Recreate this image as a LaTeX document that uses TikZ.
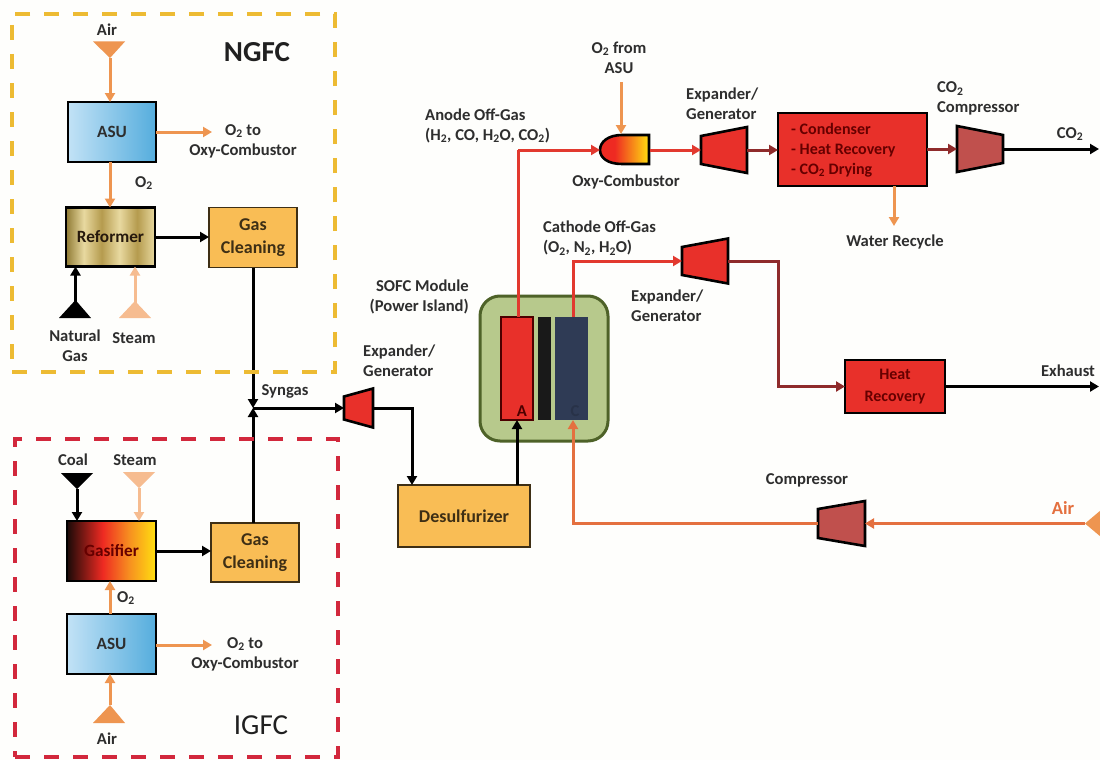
\documentclass[tikz,border=0pt]{standalone}
\usepackage{fontspec}
\setmainfont{Carlito}
\usetikzlibrary{arrows.meta}
\definecolor{bgc}{HTML}{FEFEFC}
\definecolor{txt}{HTML}{2E2E2E}
\definecolor{gold}{HTML}{EDBB33}
\definecolor{crim}{HTML}{D2283C}
\definecolor{orng}{HTML}{EE9550}
\definecolor{orrd}{HTML}{E4703F}
\definecolor{peach}{HTML}{F6BC90}
\definecolor{redl}{HTML}{E2392F}
\definecolor{dred}{HTML}{8F2B2B}
\definecolor{boxred}{HTML}{E8302A}
\definecolor{mute}{HTML}{C0504D}
\definecolor{sand}{HTML}{F9BD55}
\definecolor{olive}{HTML}{B7C98C}
\definecolor{dolive}{HTML}{4E6228}
\definecolor{navy}{HTML}{2F3B55}
\definecolor{aa}{HTML}{C2E2F6}\definecolor{ab}{HTML}{55ADDD}
\pgfdeclarehorizontalshading{asushade}{100bp}{color(0bp)=(aa);color(25bp)=(aa);color(75bp)=(ab);color(100bp)=(ab)}
\definecolor{ra}{HTML}{8F7A33}\definecolor{rb}{HTML}{E8D9A0}\definecolor{rc}{HTML}{B59B4E}
\pgfdeclarehorizontalshading{refshade}{100bp}{color(0bp)=(ra);color(25bp)=(ra);color(35bp)=(rb);color(45bp)=(rc);color(55bp)=(rb);color(65bp)=(rc);color(75bp)=(rb);color(100bp)=(rb)}
\definecolor{ga}{HTML}{1A0A08}\definecolor{gb}{HTML}{EE2A22}\definecolor{gc}{HTML}{F79020}\definecolor{gd}{HTML}{FFE010}
\pgfdeclarehorizontalshading{gasshade}{100bp}{color(0bp)=(ga);color(25bp)=(ga);color(45bp)=(gb);color(60bp)=(gc);color(75bp)=(gd);color(100bp)=(gd)}
\pgfdeclarehorizontalshading{oxyshade}{100bp}{color(0bp)=(gb);color(25bp)=(gb);color(40bp)=(gb);color(75bp)=(gd);color(100bp)=(gd)}
\tikzset{
  lbl/.style={font=\bfseries\fontsize{16.6}{20}\selectfont,text=txt,inner sep=0pt,align=center},
  lbll/.style={lbl,align=left,anchor=west},
  boxlbl/.style={lbl,font=\bfseries\fontsize{17.2}{20}\selectfont},
  procbox/.style={draw=black,line width=2.6pt,inner sep=0pt,outer sep=0pt,align=center,font=\bfseries\fontsize{16}{22}\selectfont},
  sandbox/.style={procbox,fill=sand,line width=1.5pt,draw=black!75!sand,text=black!75!sand,font=\bfseries\fontsize{18}{23}\selectfont},
  redbox/.style={procbox,fill=boxred,text=black!60!red},
  sz/.style n args={2}{minimum width=#1pt,minimum height=#2pt},
  flow/.style={line width=3pt,-{Triangle[length=9pt,width=10pt]}},
  blk/.style={flow,draw=black},
  org/.style={flow,draw=orng},
  oxr/.style={flow,draw=orrd},
  pch/.style={flow,draw=peach},
  rdl/.style={flow,draw=redl},
  drd/.style={flow,draw=dred},
  dashbox/.style={line width=3.6pt,dash pattern=on 15pt off 14pt,inner sep=0pt,outer sep=0pt},
  turb/.style={draw=black,line width=2.6pt,line join=miter},
}
% name, x left, x right, y centre, half height left, half height right, fill
\newcommand\myturb[7]{%
  \draw[turb,fill=#7] (#2,#4-#5) -- (#3,#4-#6) -- (#3,#4+#6) -- (#2,#4+#5) -- cycle;
  \coordinate (#1w) at (#2,#4);
  \coordinate (#1e) at (#3,#4);}
\newcommand\mytri[7]{% name, x1,y1, x2,y2, apex x, apex y (colour via \tricol)
  \fill[fill=\tricol] (#2,#3) -- (#4,#5) -- (#6,#7) -- cycle;
  \coordinate (#1) at (#6,#7);}
\begin{document}
\begin{tikzpicture}[x=1pt,y=-1pt]
\useasboundingbox (0,0) rectangle (1100,760);
\fill[bgc] (0,0) rectangle (1100,760);

% ---- process boxes
\node[procbox,sz={88}{60},shading=asushade] (asua) at (112,132) {};
\node[boxlbl] at (asua) {ASU};
\node[procbox,sz={89}{59},shading=refshade] (ref) at (110.5,237) {};
\node[boxlbl,text=black!80!brown] at (ref) {Reformer};
\node[sandbox,sz={88}{60}] (gca) at (253,237.5) {Gas\\Cleaning};
\node[procbox,sz={89}{60},shading=gasshade] (gas) at (111.5,551) {};
\node[boxlbl,text=black!60!red] at (gas) {Gasifier};
\node[sandbox,sz={88}{59}] (gcb) at (255,552.5) {Gas\\Cleaning};
\node[procbox,sz={89}{60},shading=asushade] (asub) at (111.5,644) {};
\node[boxlbl] at (asub) {ASU};
\node[sandbox,sz={132}{62}] (des) at (464,516) {Desulfurizer};

% SOFC
\node[draw=dolive,line width=3pt,fill=olive,rounded corners=20pt,sz={128}{145},inner sep=0pt,outer sep=0pt] (sofc) at (544,368.5) {};
\node[draw=black!70!red,line width=1.5pt,fill=boxred,sz={32}{103},inner sep=0pt,outer sep=0pt] (an) at (517,368.5) {};
\node[fill=black!90,sz={13}{103},inner sep=0pt,outer sep=0pt] (sep) at (544.5,368.5) {};
\node[fill=navy,sz={33}{103},inner sep=0pt,outer sep=0pt] (ca) at (571.5,368.5) {};
\node[lbl,text=black!70!red] (anl) at (522,411) {A};
\node[lbl,text=navy!85!black] (cal) at (575,411) {C};

% upper right
\node[redbox,sz={149}{73}] (cond) at (852.5,149.5) {};
\node[lbl,align=left,anchor=west,text=black!60!red,font=\bfseries\fontsize{16}{20}\selectfont] at (791,150) {- Condenser\\- Heat Recovery\\- CO\textsubscript{2} Drying};
\node[redbox,sz={100}{53}] (hr) at (895,386.5) {Heat\\Recovery};

% combustor
\shade[shading=oxyshade,draw=black,line width=2.6pt] (649,135) -- (622,135) .. controls (608,135) and (600,142) .. (600,150) .. controls (600,158) and (608,164) .. (622,164) -- (649,164) -- cycle;
\coordinate (oxyw) at (600,150);
\coordinate (oxye) at (650,150);
\coordinate (oxyn) at (621,134);

% turbines
\myturb{expa}{344}{373}{408}{11.5}{19.5}{boxred}
\myturb{expb}{701}{747}{150}{14}{23}{boxred}
\myturb{expc}{682}{728}{261}{14}{22.5}{boxred}
\myturb{cmpa}{957}{1003}{149}{23}{14}{mute}
\myturb{cmpb}{818}{865}{523.5}{14.5}{22.5}{mute}

% feed triangles
\def\tricol{orng}\mytri{aira}{93}{41.5}{125}{41.5}{110}{58}
\def\tricol{black}\mytri{ng}{59}{318}{91}{318}{75.5}{300}
\def\tricol{peach}\mytri{sta}{119}{318}{151}{318}{135}{301}
\def\tricol{black}\mytri{coal}{61}{473}{93}{473}{77}{489}
\def\tricol{peach}\mytri{stb}{123}{472}{155}{472}{139}{488}
\def\tricol{orng}\mytri{airb}{93}{723}{125}{723}{110}{705}
\def\tricol{orng}\mytri{airc}{1104}{507.5}{1104}{539.5}{1085}{523.5}

\coordinate (syn) at (253,408);
\coordinate (o2src) at (621,82);
\coordinate (oa) at (212,132);
\coordinate (ob) at (212,645);
\coordinate (wr) at (894,226);
\coordinate (co2end) at (1099,149);
\coordinate (exend) at (1099,386.5);
\coordinate (ano) at (518,150);
\coordinate (cato) at (573,261);
\coordinate (tapa) at (412,408);
\coordinate (tapb) at (778,261);
\coordinate (airt) at (573,523.5);

% ---- connectors
\draw[org] (aira) -- (aira |- asua.north);
\draw[org] (asua.east) -- (oa);
\draw[org] (aira |- asua.south) -- (aira |- ref.north);
\draw[blk] (ref.east) -- (ref.east -| gca.west);
\draw[blk] (ng) ++(0,5) -- (ng |- ref.south);
\draw[pch] (sta) ++(0,5) -- (sta |- ref.south);
\draw[blk] (gca.south) -- (syn);
\draw[blk] (syn |- gcb.north) -- (syn);
\draw[blk] (syn) -- (expaw);
\draw[blk] (coal) -- (coal |- gas.north);
\draw[pch] (stb) -- (stb |- gas.north);
\draw[blk] (gas.east) -- (gas.east -| gcb.west);
\draw[org] (airb |- asub.north) -- (airb |- gas.south);
\draw[org] (asub.east |- ob) -- (ob);
\draw[org] (airb) -- (airb |- asub.south);
\draw[blk] (expae) -- (tapa) -- (tapa |- des.north);
\draw[blk] (517,485) -- (an.south);
\draw[rdl,-] (ano |- an.north) -- (ano);
\draw[rdl] (ano) -- (oxyw);
\draw[org] (o2src) -- (oxyn);
\draw[rdl] (oxye) -- (expbw);
\draw[drd] (expbe) -- (cond.west |- expbe);
\draw[drd] (cond.east |- cmpaw) -- (cmpaw);
\draw[blk] (cmpae) -- (co2end);
\draw[org] (wr |- cond.south) -- (wr);
\draw[rdl] (cato |- ca.north) -- (cato) -- (expcw);
\draw[drd] (expce) -- (tapb) -- (tapb |- hr.west) -- (hr.west);
\draw[blk] (hr.east) -- (exend);
\draw[oxr] (airc) -- (cmpbe);
\draw[oxr] (cmpbw) -- (airt) -- (airt |- ca.south);

% dashed groups
\node[draw=gold,dashbox,sz={323}{358}] (ngfc) at (173.5,193) {};
\node[draw=crim,dashbox,sz={323}{318}] (igfc) at (176.5,598) {};

% ---- labels
\node[lbl] (t1) at (107,30) {Air};
\node[lbl] (t2) at (243,141) {O\textsubscript{2} to\\Oxy-Combustor};
\node[lbl] (t3) at (144,183) {O\textsubscript{2}};
\node[lbl,font=\bfseries\fontsize{29}{30}\selectfont,text=txt!70!black] (t4) at (257,52) {NGFC};
\node[lbl] (t5) at (75,346) {Natural\\Gas};
\node[lbl] (t6) at (134,338) {Steam};
\node[lbl] (t7) at (285,391) {Syngas};
\node[lbl] (t8) at (73,460) {Coal};
\node[lbl] (t9) at (135,460) {Steam};
\node[lbl] (t10) at (126,598) {O\textsubscript{2}};
\node[lbl] (t11) at (245,654) {O\textsubscript{2} to\\Oxy-Combustor};
\node[lbl] (t12) at (107,739) {Air};
\node[lbl,font=\fontsize{29}{30}\selectfont,text=txt!70!black] (t13) at (261,725) {IGFC};
\node[lbl,align=left,anchor=west] (t14) at (363,361) {Expander/\\Generator};
\node[lbl,align=right,anchor=east] (t15) at (469,296.5) {SOFC Module\\(Power Island)};
\node[lbll] (t16) at (425,125.5) {Anode Off-Gas\\(H\textsubscript{2}, CO, H\textsubscript{2}O, CO\textsubscript{2})};
\node[lbl] (t17) at (619,57.5) {O\textsubscript{2} from\\ASU};
\node[lbl] (t18) at (626,182) {Oxy-Combustor};
\node[lbll] (t19) at (686,103.5) {Expander/\\Generator};
\node[lbll] (t20) at (937,98.5) {CO\textsubscript{2}\\Compressor};
\node[lbl] (t21) at (1070,134) {CO\textsubscript{2}};
\node[lbl] (t22) at (895,242) {Water Recycle};
\node[lbll] (t23) at (543,238) {Cathode Off-Gas\\(O\textsubscript{2}, N\textsubscript{2}, H\textsubscript{2}O)};
\node[lbll] (t24) at (631,306) {Expander/\\Generator};
\node[lbl] (t25) at (1068,371) {Exhaust};
\node[lbl] (t26) at (807,480) {Compressor};
\node[lbl,text=orrd,font=\bfseries\fontsize{18.5}{20}\selectfont] (t27) at (1063,508) {Air};
\end{tikzpicture}
\end{document}
